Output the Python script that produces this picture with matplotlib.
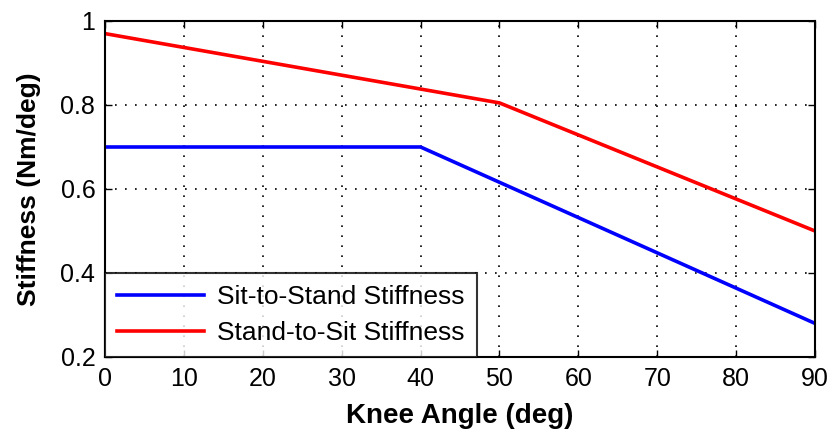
import matplotlib
matplotlib.use("Agg")
import matplotlib.pyplot as plt

sit_x = [0, 40, 90]
sit_y = [0.70, 0.70, 0.28]
stand_x = [0, 50, 90]
stand_y = [0.97, 0.805, 0.50]
xticks = [0, 10, 20, 30, 40, 50, 60, 70, 80, 90]
yticks = [0.2, 0.4, 0.6, 0.8, 1.0]
yticklabels = ["0.2", "0.4", "0.6", "0.8", "1"]

plt.rcParams['font.family'] = ['Liberation Sans', 'DejaVu Sans']

fig = plt.figure(figsize=(8.32, 4.43), dpi=100)
ax = fig.add_axes([105/832, 1-357/443, 710/832, 336/443])
ax.plot(sit_x, sit_y, color='#0000ff', lw=2.6, label='Sit-to-Stand Stiffness')
ax.plot(stand_x, stand_y, color='#ff0000', lw=2.6, label='Stand-to-Sit Stiffness')
ax.set_xlim(0, 90)
ax.set_ylim(0.2, 1.0)
ax.set_xticks(xticks)
ax.set_yticks(yticks)
ax.set_yticklabels(yticklabels)
ax.grid(True, color='black', linestyle=(0, (1, 5)), linewidth=1.2)
ax.tick_params(direction='in', length=5, width=1, top=True, right=True,
               labelsize=18, pad=7, colors='black')
for s in ax.spines.values():
    s.set_linewidth(1.5)
ax.set_xlabel('Knee Angle (deg)', fontsize=20, fontweight='bold', labelpad=9)
ax.set_ylabel('Stiffness (Nm/deg)', fontsize=19, fontweight='bold', labelpad=14)
leg = ax.legend(loc='lower left', fontsize=19, frameon=True, fancybox=False,
                borderaxespad=0, handlelength=3.3, handletextpad=0.5,
                borderpad=0.45, labelspacing=0.45)
leg.get_frame().set_edgecolor('black')
leg.get_frame().set_linewidth(1.5)
fig.savefig('out.png', dpi=100)
